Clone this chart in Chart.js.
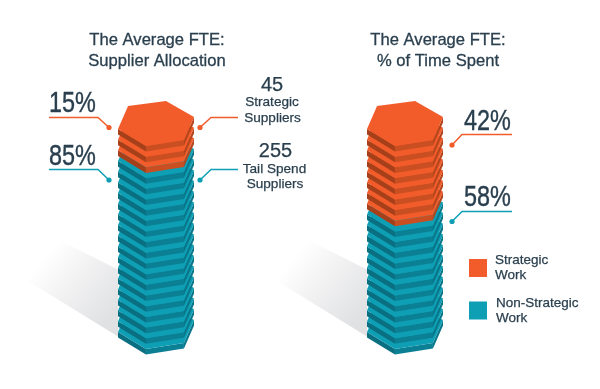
<!DOCTYPE html>
<html>
<head>
<meta charset="utf-8">
<title>The Average FTE</title>
<script src="https://cdn.jsdelivr.net/npm/chart.js@4/dist/chart.umd.min.js"></script>
<style>
  html, body { margin: 0; padding: 0; background: #fff; overflow: hidden; }
  canvas { display: block; }
</style>
</head>
<body>
<canvas id="fteChart" width="600" height="389"></canvas>
<script>
// chart values
const categories = ["Supplier Allocation", "% of Time Spent"];
const strategic = [15, 42];
const nonStrategic = [85, 58];
const supplierCounts = [45, 255];
const supplierLabels = [["Strategic", "Suppliers"], ["Tail Spend", "Suppliers"]];
const legendLabels = [["Strategic", "Work"], ["Non-Strategic", "Work"]];

const DISC_STEP = 5; // one disc stands for 5%
const DISC_THICK = 5.6;
const TEXT = "#2a3f4e";
const ORANGE = { top: "#f25c2a", left: "#a6401a", right: "#c94f22", edge: "#b3461d" };
const TEAL = { top: "#0e9fb5", left: "#0a6f80", right: "#0b8095", edge: "#0a7689" };

// hexagon outline around the front vertex, as share of the bar width
const HEX = [[-0.368, -40], [0.132, -45], [0.5, -29], [0.368, -6], [-0.132, 0], [-0.5, -17]];

function poly(ctx, pts, fill) {
    ctx.beginPath();
    pts.forEach((p, i) => i ? ctx.lineTo(p[0], p[1]) : ctx.moveTo(p[0], p[1]));
    ctx.closePath();
    ctx.fillStyle = fill;
    ctx.fill();
}

function drawDisc(ctx, cx, w, y, c) {
    let p = HEX.map(h => [cx + h[0] * w, y + h[1]]);
    let down = q => [q[0], q[1] + DISC_THICK];
    poly(ctx, [p[5], p[4], down(p[4]), down(p[5])], c.left);
    poly(ctx, [p[4], p[3], down(p[3]), down(p[4])], c.right);
    poly(ctx, [p[3], p[2], down(p[2]), down(p[3])], c.edge);
    poly(ctx, p, c.top);
}

function drawShadow(ctx, cx, w, base) {
    let x = cx - w / 2;
    let grad = ctx.createLinearGradient(x, base - 50, x - 75, base - 115);
    grad.addColorStop(0, "#e0e1e3");
    grad.addColorStop(0.5, "#f1f1f2");
    grad.addColorStop(0.9, "#ffffff");
    poly(ctx, [[x, base - 90], [x - 60, base - 120], [x - 104, base - 95], [x - 104, base - 87], [x, base - 23]], grad);
}

function drawCallout(ctx, pts, color) {
    ctx.beginPath();
    pts.forEach((p, i) => i ? ctx.lineTo(p[0], p[1]) : ctx.moveTo(p[0], p[1]));
    ctx.strokeStyle = color;
    ctx.lineWidth = 1.5;
    ctx.stroke();
    ctx.beginPath();
    ctx.arc(pts[0][0], pts[0][1], 2.6, 0, Math.PI * 2);
    ctx.fillStyle = color;
    ctx.fill();
}

// the reference uses a condensed face, so squeeze the sans sideways
function bigPercent(ctx, value, x, y) {
    ctx.save();
    ctx.translate(x, y);
    ctx.scale(0.78, 1);
    ctx.font = "30px 'Liberation Sans'";
    ctx.textAlign = "left";
    ctx.fillStyle = TEXT;
    ctx.strokeStyle = TEXT;
    ctx.lineWidth = 0.4;
    ctx.fillText(value + "%", 0, 0);
    ctx.strokeText(value + "%", 0, 0);
    ctx.restore();
}

function heavyText(ctx, str, x, y) {
    ctx.fillText(str, x, y);
    ctx.strokeText(str, x, y);
}

const hexStacks = {
    id: "hexStacks",
    beforeDatasetsDraw(chart) {
        let ctx = chart.ctx;
        let yScale = chart.scales.y;
        let bars = chart.getDatasetMeta(0).data;
        ctx.save();
        bars.forEach(bar => drawShadow(ctx, bar.x, bar.width, bar.base));
        bars.forEach((bar, b) => {
            for (let v = 0; v < 100; v += DISC_STEP) {
                let y = yScale.getPixelForValue(v + DISC_STEP);
                drawDisc(ctx, bar.x, bar.width, y, v >= nonStrategic[b] ? ORANGE : TEAL);
            }
        });
        ctx.restore();
    },
    afterDraw(chart) {
        let ctx = chart.ctx;
        let bars = chart.getDatasetMeta(0).data;
        let c0 = bars[0].x, c1 = bars[1].x;
        ctx.save();
        ctx.textBaseline = "alphabetic";

        // titles
        ctx.textAlign = "center";
        ctx.fillStyle = TEXT;
        ctx.strokeStyle = TEXT;
        ctx.lineWidth = 0.3;
        ctx.font = "16.6px 'Liberation Sans'";
        heavyText(ctx, "The Average FTE:", c0 + 1, 45);
        heavyText(ctx, categories[0], c0 + 1, 66);
        heavyText(ctx, "The Average FTE:", c1 + 33, 45);
        heavyText(ctx, categories[1], c1 + 33, 66);

        // callouts
        drawCallout(ctx, [[c0 - 47, 127.5], [c0 - 58, 117.5], [c0 - 107, 117.5]], ORANGE.top);
        drawCallout(ctx, [[c0 - 47, 180], [c0 - 58, 169.5], [c0 - 107, 169.5]], TEAL.top);
        drawCallout(ctx, [[c0 + 44, 127.5], [c0 + 55, 117.5], [c0 + 82, 117.5]], ORANGE.top);
        drawCallout(ctx, [[c0 + 44, 180], [c0 + 55, 169.5], [c0 + 82, 169.5]], TEAL.top);
        drawCallout(ctx, [[c1 + 47, 145], [c1 + 57, 134.5], [c1 + 107, 134.5]], ORANGE.top);
        drawCallout(ctx, [[c1 + 47, 221.5], [c1 + 57, 211.5], [c1 + 107, 211.5]], TEAL.top);

        bigPercent(ctx, strategic[0], 49, 112);
        bigPercent(ctx, nonStrategic[0], 49, 165);
        bigPercent(ctx, strategic[1], 464, 130);
        bigPercent(ctx, nonStrategic[1], 464, 206);

        // supplier counts
        ctx.textAlign = "center";
        ctx.fillStyle = TEXT;
        ctx.strokeStyle = TEXT;
        ctx.lineWidth = 0.25;
        [[91, 106, 121.5], [157, 172.5, 188]].forEach((row, i) => {
            ctx.font = "20px 'Liberation Sans'";
            heavyText(ctx, String(supplierCounts[i]), i ? 275.5 : 272, row[0]);
            ctx.font = "13.6px 'Liberation Sans'";
            heavyText(ctx, supplierLabels[i][0], i ? 274.5 : 272, row[1]);
            heavyText(ctx, supplierLabels[i][1], i ? 275 : 272.5, row[2]);
        });

        // legend
        ctx.textAlign = "left";
        ctx.fillStyle = ORANGE.top;
        ctx.fillRect(469, 259, 18, 18);
        ctx.fillStyle = TEAL.top;
        ctx.fillRect(469, 301.5, 18, 18);
        ctx.fillStyle = TEXT;
        ctx.font = "13.5px 'Liberation Sans'";
        heavyText(ctx, legendLabels[0][0], 495, 264);
        heavyText(ctx, legendLabels[0][1], 495, 279);
        heavyText(ctx, legendLabels[1][0], 496, 307);
        heavyText(ctx, legendLabels[1][1], 496, 322);
        ctx.restore();
    }
};

new Chart(document.getElementById("fteChart"), {
    type: "bar",
    data: {
        labels: categories,
        datasets: [
            { label: "Non-Strategic Work", data: nonStrategic, backgroundColor: "transparent" },
            { label: "Strategic Work", data: strategic, backgroundColor: "transparent" }
        ]
    },
    options: {
        responsive: false,
        animation: false,
        layout: { padding: { left: 31.5, right: 70.5, top: 146, bottom: 29.4 } },
        datasets: { bar: { barThickness: 76 } },
        plugins: { legend: { display: false }, title: { display: false }, tooltip: { enabled: false } },
        scales: {
            x: { display: false, stacked: true },
            y: { display: false, stacked: true, min: 0, max: 100 }
        }
    },
    plugins: [hexStacks]
});
</script>
</body>
</html>
